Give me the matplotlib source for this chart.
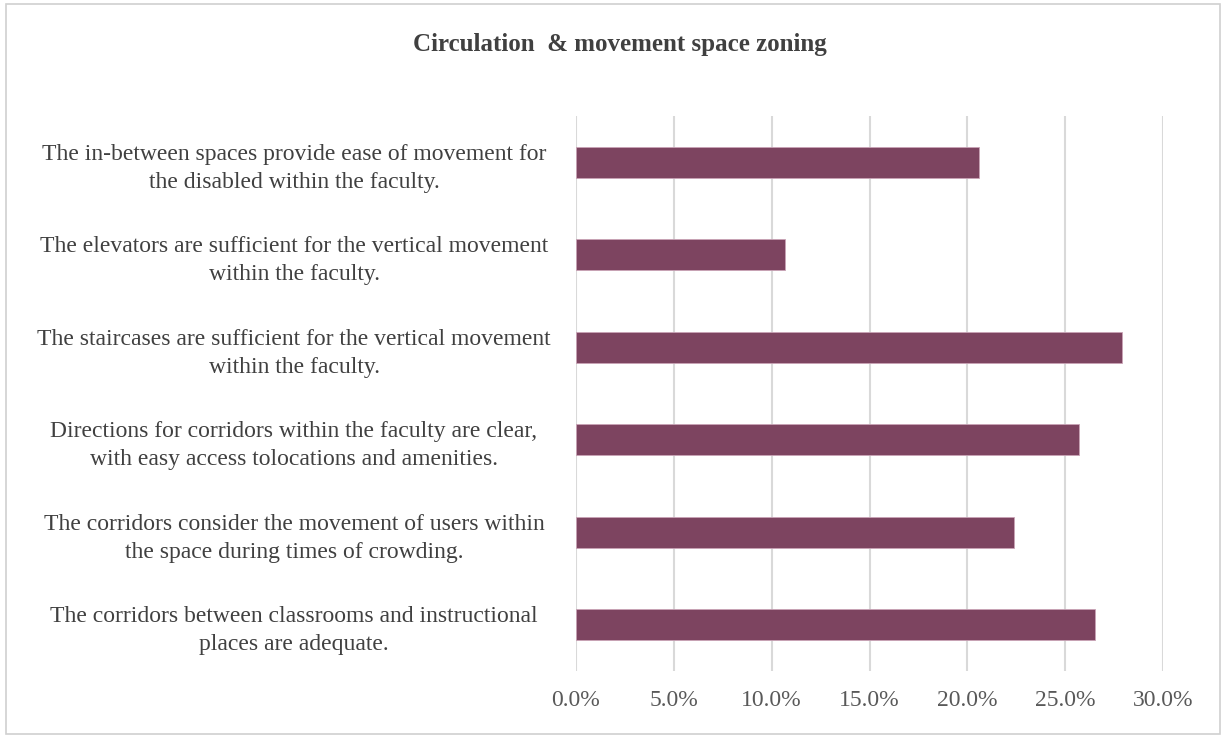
import matplotlib.pyplot as plt
from matplotlib.patches import Rectangle
from matplotlib.ticker import PercentFormatter

plt.rcParams["font.family"] = ["Liberation Serif", "DejaVu Serif"]

statements = [
    "The in-between spaces provide ease of movement for\nthe disabled within the faculty.",
    "The elevators are sufficient for the vertical movement\nwithin the faculty.",
    "The staircases are sufficient for the vertical movement\nwithin the faculty.",
    "Directions for corridors within the faculty are clear,\nwith easy access tolocations and amenities.",
    "The corridors consider the movement of users within\nthe space during times of crowding.",
    "The corridors between classrooms and instructional\nplaces are adequate.",
]
shares = [0.206, 0.107, 0.279, 0.257, 0.224, 0.265]
x_ticks = [0.0, 0.05, 0.10, 0.15, 0.20, 0.25, 0.30]

bar_color = "#7d4460"
text_color = "#404040"

fig = plt.figure(figsize=(12.26, 7.38), dpi=100)
ax = fig.add_axes([576 / 1226, 1 - 671 / 738, (1163 - 576) / 1226, (671 - 116) / 738])

y = list(range(len(statements)))[::-1]
ax.barh(y, shares, height=0.34, color=bar_color, edgecolor="#c9a3b6", linewidth=0.6, zorder=3)

ax.set_xlim(0, 0.30)
ax.set_ylim(-0.5, len(statements) - 0.5)
ax.set_xticks(x_ticks)
ax.xaxis.set_major_formatter(PercentFormatter(1.0, decimals=1))
ax.set_yticks(y)
ax.set_yticklabels(statements, ha="center", multialignment="center", linespacing=1.45)
ax.tick_params(axis="y", length=0, pad=203, labelsize=17, labelcolor=text_color)
ax.tick_params(axis="x", length=0, pad=14, labelsize=17, labelcolor="#595959")
ax.grid(axis="x", color="#d9d9d9", linewidth=1.5, zorder=0)
for s in ax.spines.values():
    s.set_visible(False)

fig.text(0.506, 1 - 45 / 738, "Circulation  & movement space zoning", ha="center", va="center",
         fontsize=18, fontweight="bold", color=text_color)

fig.patches.append(Rectangle((0.005, 0.006), 0.99, 0.988, transform=fig.transFigure,
                             fill=False, edgecolor="#d0d0d0", linewidth=1.2))

fig.savefig("out.png", dpi=100)
